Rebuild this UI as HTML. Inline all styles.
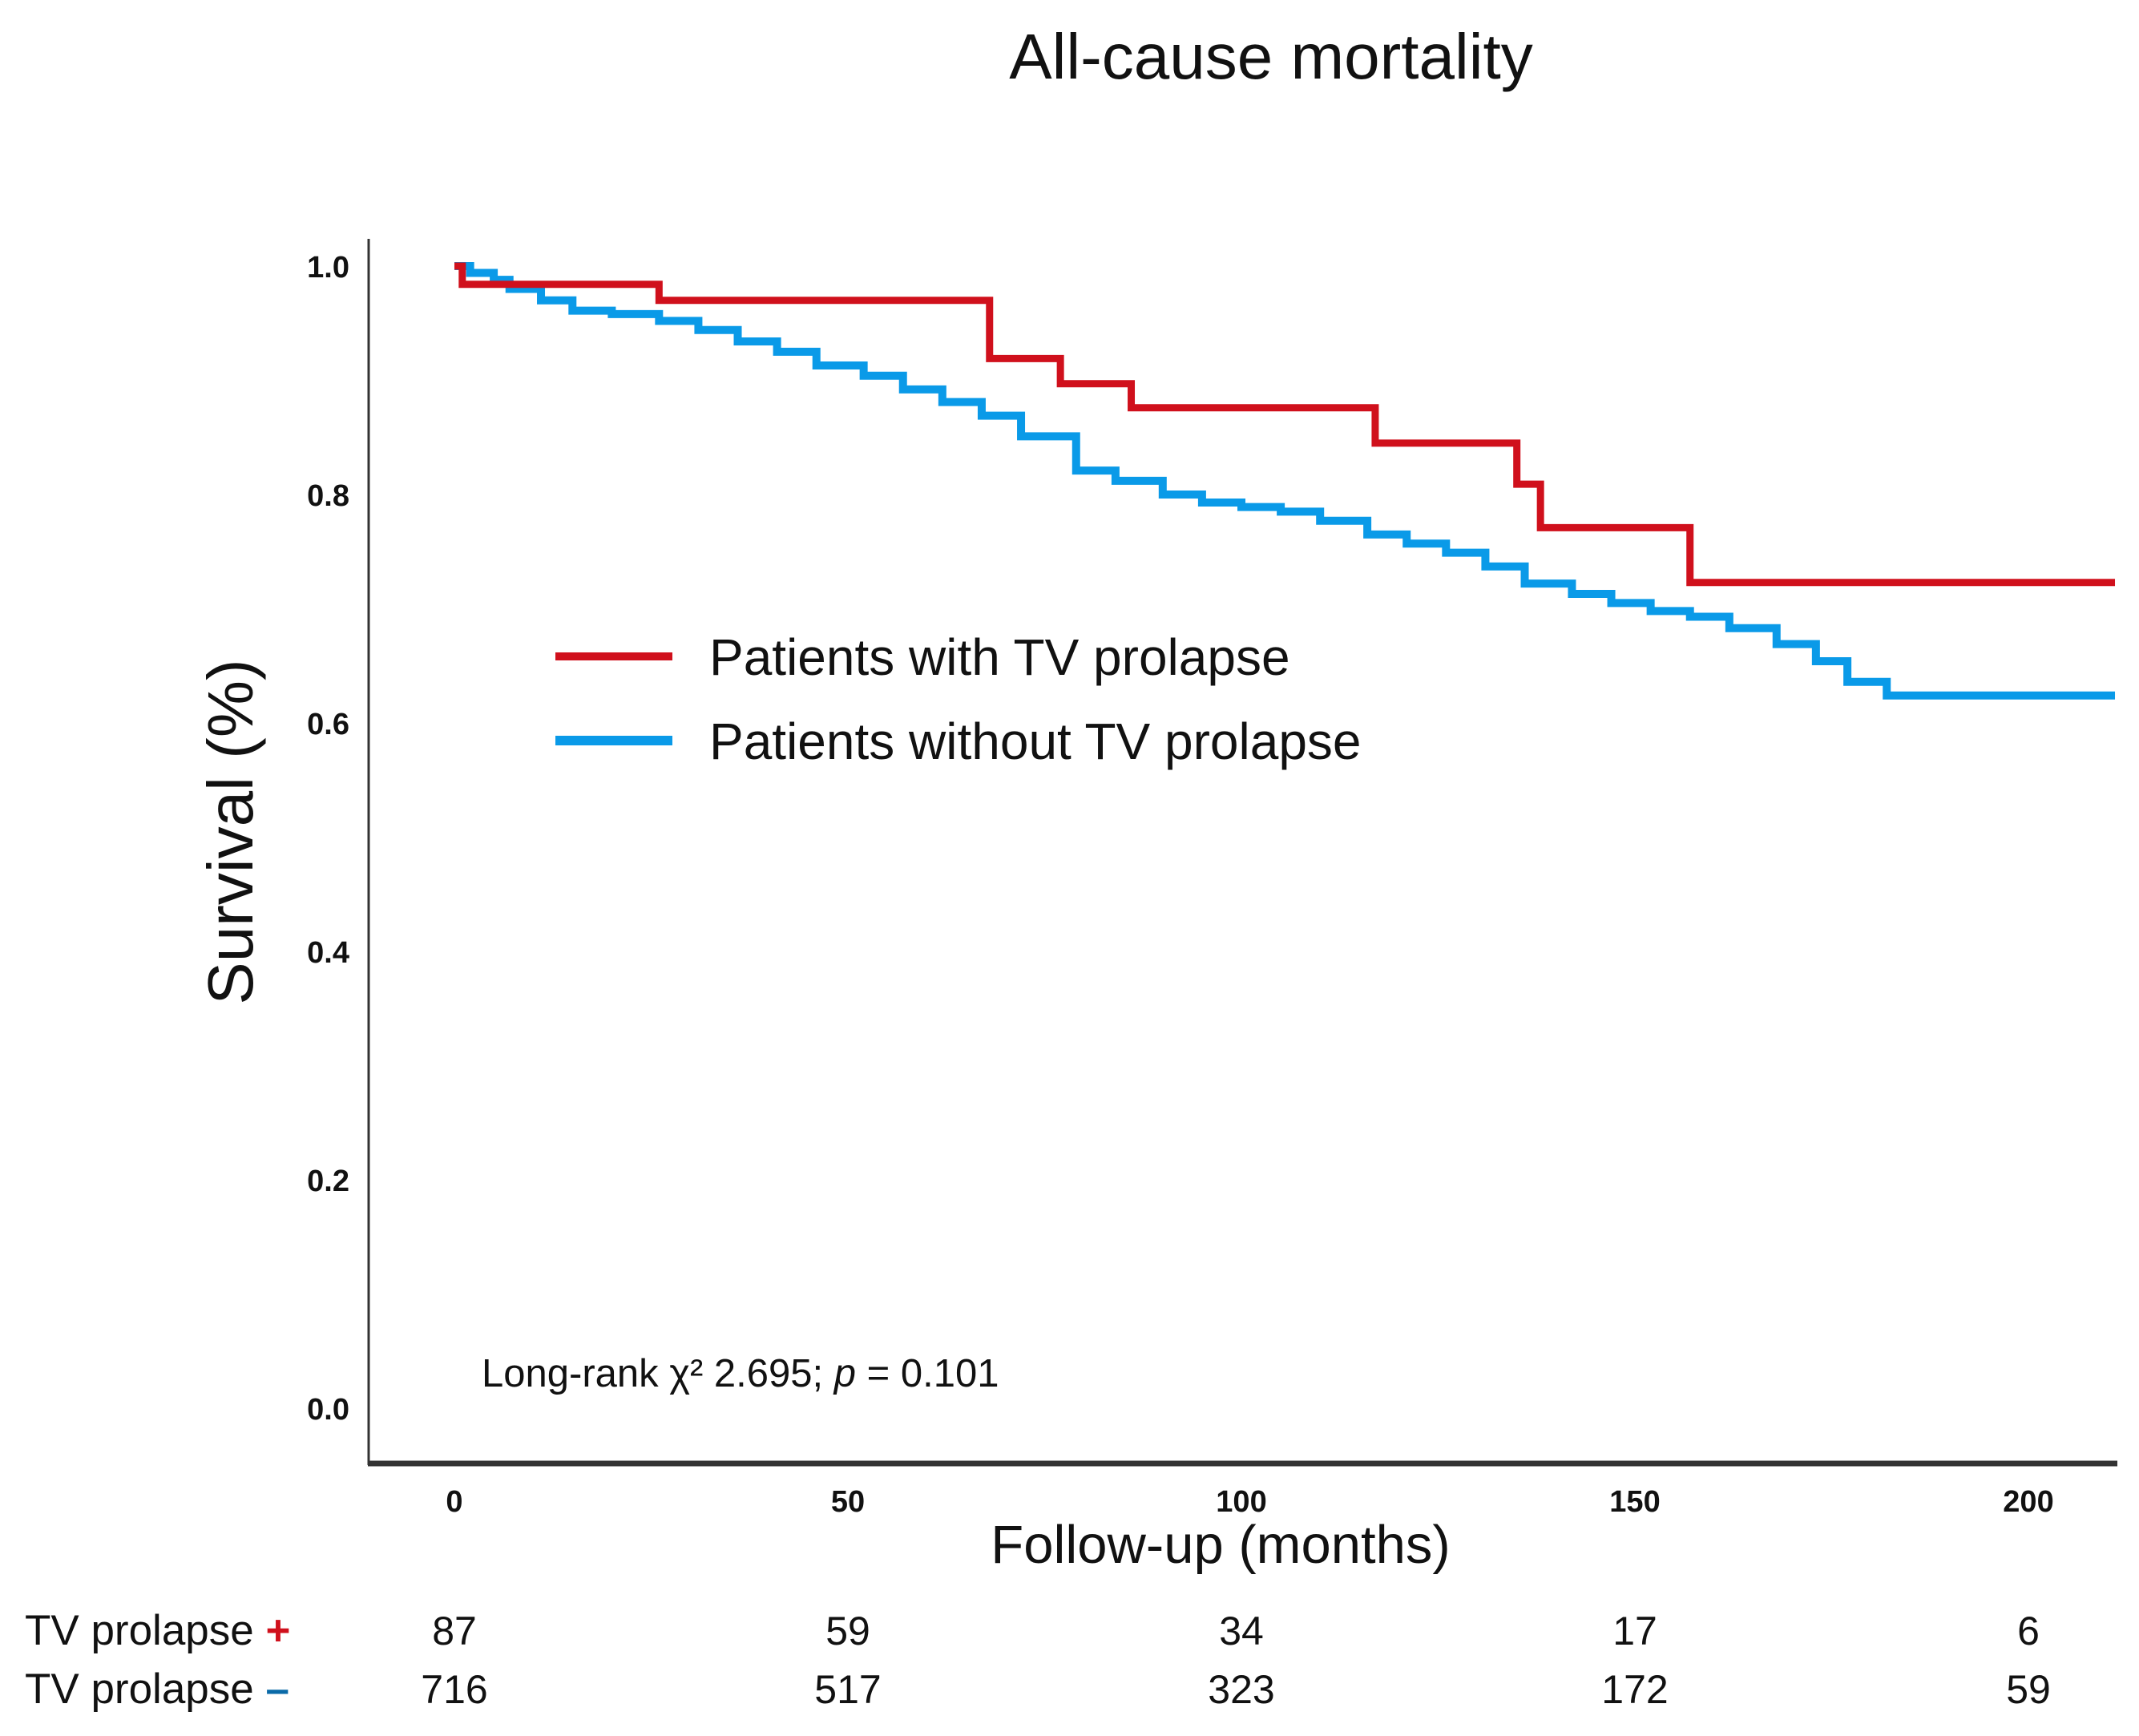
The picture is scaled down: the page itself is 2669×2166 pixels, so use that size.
<!DOCTYPE html>
<html><head><meta charset="utf-8"><style>
html,body{margin:0;padding:0;background:#fff;}
body{width:2669px;height:2166px;overflow:hidden;}
svg{display:block;font-family:"Liberation Sans",sans-serif;}
</style></head><body>
<svg id="chart" width="2669" height="2166" viewBox="0 0 2669 2166">
<text x="1586" y="98" font-size="80" text-anchor="middle" fill="#111">All-cause mortality</text>
<line x1="460" y1="298" x2="460" y2="1828" stroke="#333" stroke-width="3"/>
<line x1="459" y1="1826" x2="2642" y2="1826" stroke="#333" stroke-width="7"/>
<text transform="translate(315,1038) rotate(-90)" font-size="80" text-anchor="middle" fill="#111">Survival (%)</text>
<text x="1523" y="1950" font-size="67" text-anchor="middle" fill="#111">Follow-up (months)</text>
<text x="601" y="1730" font-size="49" fill="#111">Long-rank χ² 2.695; <tspan font-style="italic">p</tspan> = 0.101</text>
<g>
<line x1="693" y1="819" x2="839" y2="819" stroke="#d0101c" stroke-width="10"/>
<text x="885" y="842" font-size="64" fill="#111">Patients with TV prolapse</text>
<line x1="693" y1="924" x2="839" y2="924" stroke="#0a9ae8" stroke-width="12"/>
<text x="885" y="947" font-size="64" fill="#111">Patients without TV prolapse</text>
</g>
<text x="31" y="2052" font-size="53" fill="#111">TV prolapse <tspan fill="#d0101c" font-weight="bold">+</tspan></text>
<text x="31" y="2125" font-size="53" fill="#111">TV prolapse <tspan fill="#0a6aa8" font-weight="bold">–</tspan></text>
<g id="ticks"></g><g id="series"></g><g id="risk"></g>
</svg>
<script>
const xTicks=[0,50,100,150,200];
const yTicks=[0.0,0.2,0.4,0.6,0.8,1.0];
const redT=[0,1,26,68,77,86,117,135,138,157,211];
const redS=[1.0,0.984,0.970,0.919,0.897,0.876,0.845,0.809,0.771,0.723,0.723];
const blueT=[0,2,5,7,11,15,20,26,31,36,41,46,52,57,62,67,72,79,84,90,95,100,105,110,116,121,126,131,136,142,147,152,157,162,168,173,177,182,211];
const blueS=[1.0,0.994,0.988,0.980,0.970,0.961,0.958,0.952,0.944,0.934,0.925,0.913,0.904,0.892,0.881,0.869,0.851,0.821,0.812,0.800,0.793,0.789,0.785,0.777,0.765,0.757,0.749,0.737,0.722,0.713,0.705,0.698,0.693,0.683,0.669,0.654,0.636,0.624,0.624];
const riskPlus=[87,59,34,17,6];
const riskMinus=[716,517,323,172,59];
const NS='http://www.w3.org/2000/svg';
const X=m=>567+m*(2531-567)/200;
const Y=v=>1757-v*(1757-332);
function mk(t,a,p){const e=document.createElementNS(NS,t);for(const k in a)e.setAttribute(k,a[k]);p.appendChild(e);return e;}
const tk=document.getElementById('ticks');
xTicks.forEach(t=>{const e=mk('text',{x:X(t),y:1886,'font-size':38,'font-weight':'bold','text-anchor':'middle',fill:'#111'},tk);e.textContent=t;

});
yTicks.forEach(t=>{const e=mk('text',{x:436,y:Y(t)+14,'font-size':38,'font-weight':'bold','text-anchor':'end',fill:'#111'},tk);e.textContent=t.toFixed(1);

});
function step(T,S){let d='M'+X(T[0])+' '+Y(S[0]);for(let i=1;i<T.length;i++){d+=' H'+X(T[i])+' V'+Y(S[i]);}return d;}
const sg=document.getElementById('series');
const b=mk('path',{d:step(blueT,blueS),fill:'none',stroke:'#0a9ae8','stroke-width':10},sg);


const r=mk('path',{d:step(redT,redS),fill:'none',stroke:'#d0101c','stroke-width':9},sg);


const rg=document.getElementById('risk');
xTicks.forEach((t,i)=>{
const a=mk('text',{x:X(t),y:2052,'font-size':50,'text-anchor':'middle',fill:'#111'},rg);a.textContent=riskPlus[i];


const c=mk('text',{x:X(t),y:2125,'font-size':50,'text-anchor':'middle',fill:'#111'},rg);c.textContent=riskMinus[i];


});
</script>
</body></html>
